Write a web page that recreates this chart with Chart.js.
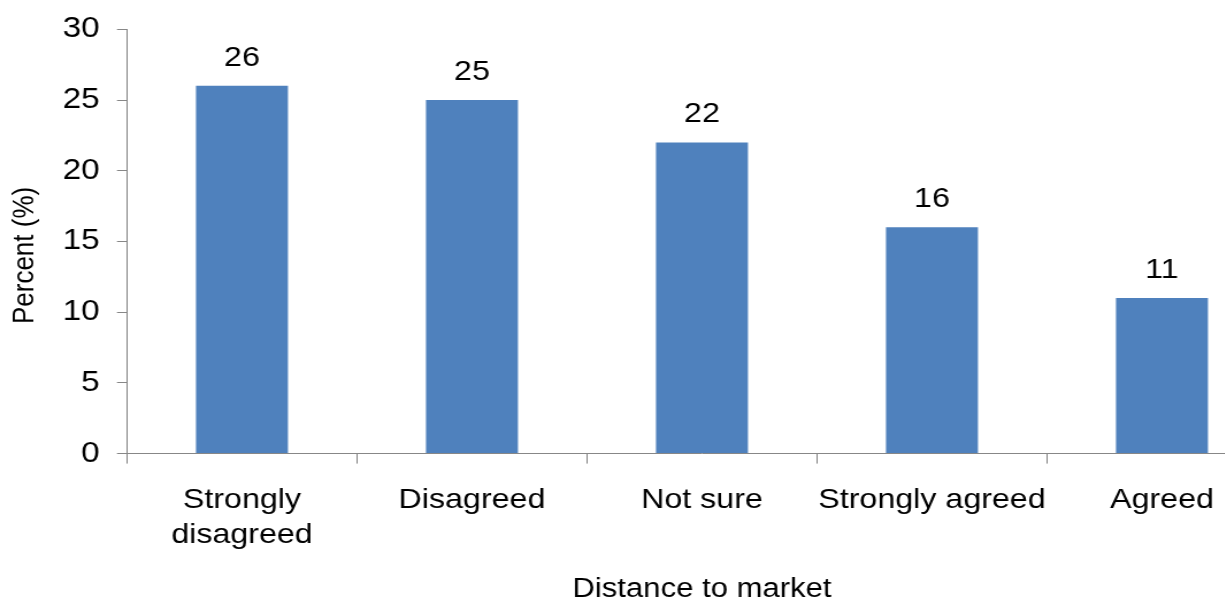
<!DOCTYPE html>
<html>
<head>
<meta charset="utf-8">
<script src="https://cdn.jsdelivr.net/npm/chart.js@4"></script>
<style>
  html, body { margin: 0; padding: 0; background: #fff; overflow: hidden; }
  /* the figure is drawn a bit narrow and then widened horizontally */
  #wrap {
    position: relative;
    width: 1120px;
    height: 606px;
    transform: scaleX(1.15);
    transform-origin: 0 0;
  }
</style>
</head>
<body>
<div id="wrap"><canvas id="marketChart"></canvas></div>
<script>
const categories = [["Strongly", "disagreed"], "Disagreed", "Not sure", "Strongly agreed", "Agreed"];
const percents = [26, 25, 22, 16, 11];
const yMin = 0;
const yMax = 30;
const yStep = 5;

const FONT = "'Liberation Sans', Arial, Helvetica, sans-serif";
const AXIS_GREY = "#878787";
const BAR_BLUE = "#4f81bd";

Chart.defaults.font.family = FONT;
Chart.defaults.color = "#000";

// value printed above every bar
const barValues = {
  id: "barValues",
  afterDatasetsDraw(chart) {
    const ctx = chart.ctx;
    const meta = chart.getDatasetMeta(0);
    ctx.save();
    ctx.font = "28px " + FONT;
    ctx.fillStyle = "#000";
    ctx.textAlign = "center";
    ctx.textBaseline = "alphabetic";
    meta.data.forEach((bar, i) => {
      ctx.fillText(String(percents[i]), bar.x, bar.y - 20);
    });
    ctx.restore();
  },
};

// y axis caption, sitting a little below the middle of the plot
const yCaption = {
  id: "yCaption",
  afterDraw(chart) {
    const ctx = chart.ctx;
    const area = chart.chartArea;
    ctx.save();
    ctx.translate(21.7, (area.top + area.bottom) / 2 + 14);
    ctx.rotate(-Math.PI / 2);
    ctx.font = "26px " + FONT;
    ctx.fillStyle = "#000";
    ctx.textAlign = "center";
    ctx.textBaseline = "middle";
    ctx.fillText("Percent (%)", 0, 0);
    ctx.restore();
  },
};

const ctx = document.getElementById("marketChart").getContext("2d");
const marketChart = new Chart(ctx, {
  type: "bar",
  data: {
    labels: categories,
    datasets: [
      {
        data: percents,
        backgroundColor: BAR_BLUE,
        borderWidth: 0,
        categoryPercentage: 1,
        barPercentage: 0.4,
      },
    ],
  },
  plugins: [barValues, yCaption],
  options: {
    responsive: true,
    maintainAspectRatio: false,
    animation: false,
    layout: {
      padding: { top: 29.3, right: 9.6, bottom: 0, left: 0 },
    },
    plugins: {
      legend: { display: false },
      tooltip: { enabled: false },
    },
    scales: {
      x: {
        grid: {
          drawOnChartArea: false,
          drawTicks: true,
          tickLength: 10,
          color: AXIS_GREY,
        },
        border: { color: AXIS_GREY, width: 1 },
        ticks: {
          color: "#000",
          padding: 19.5,
          maxRotation: 0,
          minRotation: 0,
          autoSkip: false,
          font: { size: 28, lineHeight: 1.25 },
        },
        title: {
          display: true,
          text: "Distance to market",
          color: "#000",
          font: { size: 27, lineHeight: 1.2 },
          padding: { top: 1, bottom: 0 },
        },
      },
      y: {
        min: yMin,
        max: yMax,
        afterFit(scale) {
          scale.width = 110.4;
          // let the layout padding alone decide where the plot starts
          scale.paddingTop = 10;
          scale.paddingBottom = 10;
        },
        grid: {
          drawOnChartArea: false,
          drawTicks: true,
          tickLength: 8.7,
          color: AXIS_GREY,
        },
        border: { color: AXIS_GREY, width: 1 },
        ticks: {
          stepSize: yStep,
          color: "#000",
          padding: 15,
          font: { size: 29 },
        },
      },
    },
  },
});
</script>
</body>
</html>
